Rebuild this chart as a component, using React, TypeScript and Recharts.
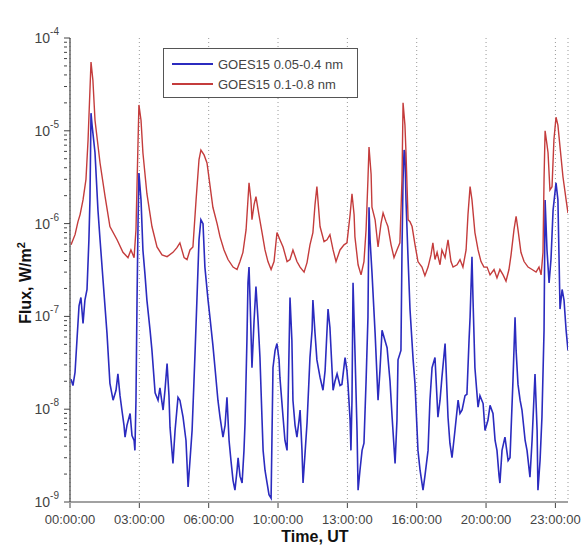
import { CartesianGrid, Label, Legend, Line, LineChart, XAxis, YAxis } from "recharts";

const FONT = "'Liberation Sans', Arial, sans-serif";

const hourTicks = [0, 3.3, 6.6, 9.9, 13.2, 16.5, 19.8, 23.1];
const hourTickLabels = ["00:00:00", "03:00:00", "06:00:00", "10:00:00", "13:00:00", "16:00:00", "20:00:00", "23:00:00"];
const decadeExponents = [-9, -8, -7, -6, -5];
const minorMultipliers = [1, 2, 3, 4, 5, 6, 7, 8, 9];

// [hour of day, flux W/m^2]
const shortBand: [number, number][] = [
  [0.05, 2.1e-8], [0.14, 1.8e-8], [0.24, 2.5e-8], [0.33, 5.5e-8], [0.43, 1.3e-7], [0.52, 1.6e-7],
  [0.62, 8.4e-8], [0.71, 1.5e-7], [0.81, 1.95e-7], [0.9, 6.7e-7], [0.95, 1.8e-6], [1.0, 1.55e-5],
  [1.05, 1.15e-5], [1.19, 5.8e-6], [1.33, 1.4e-6], [1.43, 6.7e-7], [1.57, 2.5e-7], [1.76, 6.6e-8],
  [1.9, 1.9e-8], [2.05, 1.25e-8], [2.19, 1.6e-8], [2.28, 2.4e-8], [2.38, 1.4e-8], [2.47, 9.8e-9],
  [2.57, 6.7e-9], [2.62, 5.0e-9], [2.71, 6.7e-9], [2.86, 9.0e-9], [2.95, 5.2e-9], [3.05, 4.6e-9],
  [3.09, 3.6e-9], [3.14, 1.25e-8], [3.19, 1.5e-7], [3.24, 1.1e-6], [3.28, 3.5e-6], [3.38, 1.8e-6],
  [3.47, 5.2e-7], [3.57, 2.8e-7], [3.66, 1.5e-7], [3.81, 7.1e-8], [3.9, 4.3e-8], [4.05, 1.5e-8],
  [4.19, 1.25e-8], [4.28, 1.7e-8], [4.43, 9.8e-9], [4.52, 1.6e-8], [4.62, 3.1e-8], [4.71, 1.4e-8],
  [4.76, 6.4e-9], [4.9, 2.6e-9], [5.0, 5.9e-9], [5.14, 1.34e-8], [5.23, 1.25e-8], [5.38, 8.2e-9],
  [5.52, 4.6e-9], [5.62, 1.45e-9], [5.71, 2.8e-9], [5.81, 5.9e-9], [5.9, 2.0e-8], [5.95, 4.0e-8],
  [6.04, 1.5e-7], [6.14, 6.7e-7], [6.23, 1.1e-6], [6.33, 1.0e-6], [6.42, 3.4e-7], [6.57, 1.5e-7],
  [6.66, 9.8e-8], [6.8, 4.9e-8], [6.9, 2.8e-8], [7.04, 1.25e-8], [7.14, 8.2e-9], [7.28, 5.0e-9],
  [7.38, 6.7e-9], [7.47, 1.34e-8], [7.57, 4.6e-9], [7.66, 2.8e-9], [7.76, 1.7e-9], [7.85, 1.34e-9],
  [7.95, 2.2e-9], [8.0, 3.0e-9], [8.09, 1.9e-9], [8.19, 1.6e-9], [8.28, 3.6e-9], [8.33, 7.1e-9],
  [8.42, 5.5e-8], [8.47, 2.3e-7], [8.52, 3.4e-7], [8.57, 1.5e-7], [8.66, 2.8e-8], [8.76, 9.0e-8],
  [8.85, 2.1e-7], [8.95, 9.0e-8], [9.04, 3.6e-8], [9.14, 7.6e-9], [9.19, 3.6e-9], [9.28, 2.2e-9],
  [9.38, 1.6e-9], [9.47, 1.2e-9], [9.57, 1.1e-9], [9.61, 4.6e-9], [9.66, 2.8e-8], [9.76, 4.3e-8],
  [9.85, 5.1e-8], [9.95, 3.4e-8], [9.99, 2.2e-8], [10.14, 8.2e-9], [10.23, 4.6e-9], [10.33, 3.6e-9],
  [10.38, 1.25e-8], [10.47, 1.6e-7], [10.56, 5.5e-8], [10.61, 1.25e-8], [10.71, 6.7e-9], [10.8, 5.0e-9],
  [10.9, 7.6e-9], [10.95, 9.8e-9], [11.04, 3.6e-9], [11.09, 1.6e-9], [11.18, 3.2e-9], [11.28, 7.1e-9],
  [11.37, 2.0e-8], [11.42, 3.6e-8], [11.52, 7.1e-8], [11.56, 1.5e-7], [11.66, 6.6e-8], [11.75, 3.4e-8],
  [11.9, 2.2e-8], [12.04, 1.6e-8], [12.14, 2.6e-8], [12.28, 1.2e-7], [12.37, 7.6e-8], [12.52, 1.6e-8],
  [12.61, 2.0e-8], [12.71, 2.4e-8], [12.85, 1.8e-8], [12.94, 1.85e-8], [13.09, 3.6e-8], [13.18, 2.6e-8],
  [13.23, 1.85e-8], [13.33, 7.6e-9], [13.37, 3.6e-9], [13.42, 1.25e-8], [13.47, 2.3e-7], [13.56, 4.3e-8],
  [13.66, 5.9e-9], [13.71, 1.34e-9], [13.8, 2.2e-9], [13.9, 3.6e-9], [13.99, 4.3e-9], [14.09, 2.0e-8],
  [14.18, 9.8e-8], [14.23, 1.5e-6], [14.28, 6.7e-7], [14.37, 3.0e-7], [14.52, 6.6e-8], [14.66, 1.25e-8],
  [14.75, 2.6e-8], [14.85, 7.1e-8], [14.99, 5.5e-8], [15.09, 4.6e-8], [15.23, 2.0e-8], [15.33, 8.2e-9],
  [15.47, 2.6e-9], [15.56, 7.6e-9], [15.61, 3.4e-8], [15.75, 4.3e-8], [15.8, 5.2e-7], [15.85, 3.0e-6],
  [15.9, 6.2e-6], [15.94, 5.8e-6], [15.99, 1.8e-6], [16.09, 4.1e-7], [16.18, 1.2e-7], [16.33, 3.4e-8],
  [16.42, 1.85e-8], [16.56, 3.6e-9], [16.66, 2.2e-9], [16.8, 1.34e-9], [16.89, 1.9e-9], [17.04, 3.6e-9],
  [17.13, 1.25e-8], [17.23, 2.8e-8], [17.37, 3.6e-8], [17.51, 8.2e-9], [17.61, 1.25e-8], [17.7, 2.2e-8],
  [17.85, 5.1e-8], [17.99, 8.2e-9], [18.08, 4.3e-9], [18.18, 3.0e-9], [18.32, 5.9e-9], [18.47, 1.25e-8],
  [18.56, 9.0e-9], [18.66, 9.8e-9], [18.8, 1.4e-8], [18.89, 1.45e-8], [18.99, 5.5e-8], [19.04, 9.8e-8],
  [19.13, 4.4e-7], [19.18, 1.5e-7], [19.27, 2.8e-8], [19.42, 1.05e-8], [19.51, 1.4e-8], [19.66, 1.15e-8],
  [19.75, 5.9e-9], [19.89, 7.6e-9], [19.99, 1.1e-8], [20.13, 9.0e-9], [20.23, 4.6e-9], [20.32, 3.6e-9],
  [20.42, 1.9e-9], [20.46, 1.6e-9], [20.56, 3.6e-9], [20.7, 5.0e-9], [20.85, 2.8e-9], [20.94, 3.0e-9],
  [21.08, 2.0e-8], [21.18, 9.8e-8], [21.23, 4.3e-8], [21.32, 1.85e-8], [21.42, 1.25e-8], [21.51, 9.8e-9],
  [21.66, 4.6e-9], [21.75, 3.6e-9], [21.89, 1.85e-9], [21.99, 4.6e-9], [22.13, 2.4e-8], [22.23, 5.9e-9],
  [22.27, 1.34e-9], [22.37, 2.8e-9], [22.46, 8.2e-9], [22.56, 7.1e-8], [22.61, 1.8e-6], [22.7, 5.2e-7],
  [22.8, 2.3e-7], [22.89, 4.1e-7], [22.99, 1.4e-6], [23.13, 2.75e-6], [23.22, 1.8e-6], [23.32, 1.2e-7],
  [23.42, 1.95e-7], [23.51, 1.5e-7], [23.61, 7.1e-8], [23.7, 4.3e-8],
];

const longBand: [number, number][] = [
  [0.05, 5.9e-7], [0.24, 7.6e-7], [0.38, 1.05e-6], [0.48, 1.25e-6], [0.62, 1.8e-6], [0.76, 3.0e-6],
  [0.86, 8.0e-6], [1.0, 5.5e-5], [1.09, 3.5e-5], [1.19, 1.3e-5], [1.43, 4.5e-6], [1.67, 1.95e-6],
  [1.9, 9.3e-7], [2.24, 6.7e-7], [2.52, 4.9e-7], [2.76, 4.3e-7], [2.9, 5.2e-7], [3.05, 4.3e-7],
  [3.14, 8.6e-7], [3.24, 8.0e-6], [3.28, 1.9e-5], [3.38, 1.3e-5], [3.47, 5.8e-6], [3.66, 2.1e-6],
  [3.9, 9.3e-7], [4.14, 5.6e-7], [4.38, 4.6e-7], [4.62, 4.4e-7], [4.9, 4.9e-7], [5.09, 5.5e-7],
  [5.23, 6.2e-7], [5.43, 4.3e-7], [5.57, 4.1e-7], [5.71, 5.2e-7], [5.85, 5.6e-7], [6.0, 1.8e-6],
  [6.14, 4.9e-6], [6.23, 6.2e-6], [6.38, 5.5e-6], [6.52, 4.5e-6], [6.66, 2.6e-6], [6.8, 1.5e-6],
  [7.0, 1.0e-6], [7.14, 7.2e-7], [7.33, 5.2e-7], [7.52, 4.1e-7], [7.76, 3.4e-7], [7.95, 3.2e-7],
  [8.09, 3.9e-7], [8.23, 4.9e-7], [8.38, 8.6e-7], [8.52, 2.75e-6], [8.61, 1.8e-6], [8.66, 1.1e-6],
  [8.76, 1.6e-6], [8.85, 1.95e-6], [8.99, 1.25e-6], [9.14, 8.0e-7], [9.28, 5.2e-7], [9.42, 3.9e-7],
  [9.57, 3.2e-7], [9.71, 3.9e-7], [9.85, 8.0e-7], [9.99, 6.7e-7], [10.14, 5.6e-7], [10.33, 3.9e-7],
  [10.47, 4.1e-7], [10.61, 5.2e-7], [10.8, 3.9e-7], [10.95, 3.4e-7], [11.14, 3.0e-7], [11.28, 3.8e-7],
  [11.42, 5.9e-7], [11.56, 8.0e-7], [11.66, 1.6e-6], [11.75, 2.5e-6], [11.9, 9.3e-7], [12.09, 6.4e-7],
  [12.23, 6.7e-7], [12.37, 7.6e-7], [12.52, 5.2e-7], [12.66, 3.9e-7], [12.85, 5.2e-7], [13.04, 5.9e-7],
  [13.18, 6.2e-7], [13.33, 1.25e-6], [13.42, 2.1e-6], [13.52, 1.25e-6], [13.56, 7.2e-7], [13.71, 3.6e-7],
  [13.85, 2.8e-7], [13.99, 3.9e-7], [14.09, 8.6e-7], [14.18, 3.0e-6], [14.23, 6.7e-6], [14.33, 3.4e-6],
  [14.37, 1.5e-6], [14.52, 1.1e-6], [14.66, 5.6e-7], [14.8, 1.0e-6], [14.9, 1.3e-6], [15.04, 1.05e-6],
  [15.13, 9.3e-7], [15.28, 5.9e-7], [15.42, 4.3e-7], [15.56, 5.2e-7], [15.7, 6.2e-7], [15.8, 3.0e-6],
  [15.85, 2.0e-5], [15.94, 1.15e-5], [15.99, 5.8e-6], [16.09, 1.1e-6], [16.18, 1.05e-6], [16.28, 9.3e-7],
  [16.42, 5.9e-7], [16.56, 3.9e-7], [16.75, 3.4e-7], [16.89, 2.75e-7], [17.04, 3.4e-7], [17.18, 4.6e-7],
  [17.27, 6.2e-7], [17.37, 4.1e-7], [17.47, 4.9e-7], [17.61, 3.6e-7], [17.7, 5.2e-7], [17.85, 4.3e-7],
  [17.99, 6.7e-7], [18.13, 3.9e-7], [18.23, 3.4e-7], [18.42, 3.6e-7], [18.56, 4.1e-7], [18.7, 3.4e-7],
  [18.85, 5.2e-7], [18.94, 1.25e-6], [19.04, 2.5e-6], [19.13, 1.8e-6], [19.27, 8.0e-7], [19.42, 5.2e-7],
  [19.56, 3.9e-7], [19.7, 3.4e-7], [19.85, 3.4e-7], [19.99, 2.8e-7], [20.18, 3.2e-7], [20.32, 2.6e-7],
  [20.46, 3.2e-7], [20.61, 2.8e-7], [20.75, 2.4e-7], [20.89, 3.2e-7], [20.99, 4.6e-7], [21.13, 8.6e-7],
  [21.23, 1.2e-6], [21.32, 8.6e-7], [21.46, 4.9e-7], [21.61, 3.9e-7], [21.8, 3.4e-7], [21.99, 3.2e-7],
  [22.18, 3.0e-7], [22.32, 3.4e-7], [22.42, 2.8e-7], [22.51, 4.9e-7], [22.56, 3.0e-6], [22.61, 1.0e-5],
  [22.7, 7.1e-6], [22.75, 5.8e-6], [22.84, 2.3e-6], [22.94, 2.5e-6], [23.03, 8.0e-6], [23.13, 1.4e-5],
  [23.22, 1.15e-5], [23.32, 6.7e-6], [23.46, 3.2e-6], [23.61, 1.8e-6], [23.7, 1.3e-6],
];

const shortData = shortBand.map(([t, flux]) => ({ t, flux }));
const longData = longBand.map(([t, flux]) => ({ t, flux }));

const fluxTicks: number[] = [];
decadeExponents.forEach((e) => minorMultipliers.forEach((k) => fluxTicks.push(k * Math.pow(10, e))));
fluxTicks.push(1e-4);

function decadeOf(v: number) {
  const e = Math.floor(Math.log10(v) + 1e-9);
  return { e, major: Math.abs(v / Math.pow(10, e) - 1) < 1e-6 };
}

function LeftTick({ x, y, payload }: any) {
  const { e, major } = decadeOf(payload.value);
  return (
    <g>
      <line x1={x} x2={x + (major ? 6 : 3)} y1={y} y2={y} stroke="#444" />
      {major && (
        <text x={x - 5} y={y + 5} textAnchor="end" fontSize={14} fill="#444" fontFamily={FONT}>
          10
          <tspan dy={-8} fontSize={10}>{`-${Math.abs(e)}`}</tspan>
        </text>
      )}
    </g>
  );
}

function RightTick({ x, y, payload }: any) {
  const { major } = decadeOf(payload.value);
  return <line x1={x} x2={x - (major ? 6 : 3)} y1={y} y2={y} stroke="#444" />;
}

function BottomTick({ x, y, payload }: any) {
  const label = hourTickLabels[hourTicks.indexOf(payload.value)];
  return (
    <g>
      <line x1={x} x2={x} y1={y} y2={y - 5} stroke="#444" />
      <text x={x} y={y + 16} textAnchor="middle" fontSize={13} fill="#444" fontFamily={FONT}>
        {label}
      </text>
    </g>
  );
}

function TopTick({ x, y }: any) {
  return <line x1={x} x2={x} y1={y} y2={y + 5} stroke="#444" />;
}

function LegendBox({ payload }: any) {
  return (
    <div
      style={{
        border: "1.5px solid #555",
        background: "#fff",
        height: "100%",
        boxSizing: "border-box",
        padding: "5px 0 0 8px",
        fontFamily: FONT,
        fontSize: 13,
        color: "#444",
      }}
    >
      {(payload || []).map((item: any) => (
        <div key={item.value} style={{ display: "flex", alignItems: "center", height: 20 }}>
          <span style={{ display: "inline-block", width: 41, height: 0, borderTop: `2px solid ${item.color}`, marginRight: 5 }} />
          <span>{item.value}</span>
        </div>
      ))}
    </div>
  );
}

export default function App() {
  return (
    <div style={{ position: "absolute", left: 0, top: 0, width: 587, height: 546, background: "#fff" }}>
      <LineChart width={587} height={546} margin={{ top: 38, right: 19, bottom: 0, left: 0 }}>
        <CartesianGrid horizontal={false} stroke="#999" strokeDasharray="1 3" />
        <XAxis
          dataKey="t"
          type="number"
          domain={[0, 23.7]}
          ticks={hourTicks}
          interval={0}
          allowDataOverflow
          height={44}
          tickLine={false}
          tickMargin={0}
          axisLine={{ stroke: "#444", strokeWidth: 1.2 }}
          tick={<BottomTick />}
        >
          <Label
            content={() => (
              <text x={315} y={542} textAnchor="middle" fontSize={16} fontWeight="bold" fill="#111" fontFamily={FONT}>
                Time, UT
              </text>
            )}
          />
        </XAxis>
        <XAxis
          xAxisId="top"
          orientation="top"
          dataKey="t"
          type="number"
          domain={[0, 23.7]}
          ticks={hourTicks}
          interval={0}
          allowDataOverflow
          height={0}
          tickLine={false}
          tickMargin={0}
          axisLine={{ stroke: "#444", strokeWidth: 1.2 }}
          tick={<TopTick />}
        >
          <Label
            content={() => (
              <text x={283} y={27} textAnchor="middle" fontSize={15} fontWeight="bold" fill="#111" fontFamily={FONT}>
                GOES Xray Flux (1 minute data) in 18 August 2012
              </text>
            )}
          />
        </XAxis>
        <YAxis
          type="number"
          scale="log"
          domain={[1e-9, 1e-4]}
          ticks={fluxTicks}
          interval={0}
          allowDataOverflow
          width={70}
          tickLine={false}
          tickMargin={0}
          axisLine={{ stroke: "#444", strokeWidth: 1.2 }}
          tick={<LeftTick />}
        >
          <Label
            content={() => (
              <text
                transform="translate(31,283) rotate(-90)"
                textAnchor="middle"
                fontSize={16}
                fontWeight="bold"
                fill="#111"
                fontFamily={FONT}
              >
                Flux, W/m
                <tspan dy={-6} fontSize={11}>2</tspan>
              </text>
            )}
          />
        </YAxis>
        <YAxis
          yAxisId="right"
          orientation="right"
          type="number"
          scale="log"
          domain={[1e-9, 1e-4]}
          ticks={fluxTicks}
          interval={0}
          allowDataOverflow
          width={0}
          tickLine={false}
          tickMargin={0}
          axisLine={{ stroke: "#444", strokeWidth: 1.2 }}
          tick={<RightTick />}
        />
        <Legend
          layout="horizontal"
          verticalAlign="middle"
          align="center"
          wrapperStyle={{ left: 163, top: 48, width: 195, height: 50 }}
          content={<LegendBox />}
        />
        <Line
          data={shortData}
          dataKey="flux"
          name="GOES15 0.05-0.4 nm"
          type="linear"
          stroke="#2b2bbf"
          strokeWidth={1.6}
          dot={false}
          activeDot={false}
          isAnimationActive={false}
        />
        <Line
          data={longData}
          dataKey="flux"
          name="GOES15 0.1-0.8 nm"
          type="linear"
          stroke="#c43c3c"
          strokeWidth={1.4}
          dot={false}
          activeDot={false}
          isAnimationActive={false}
        />
      </LineChart>
    </div>
  );
}
